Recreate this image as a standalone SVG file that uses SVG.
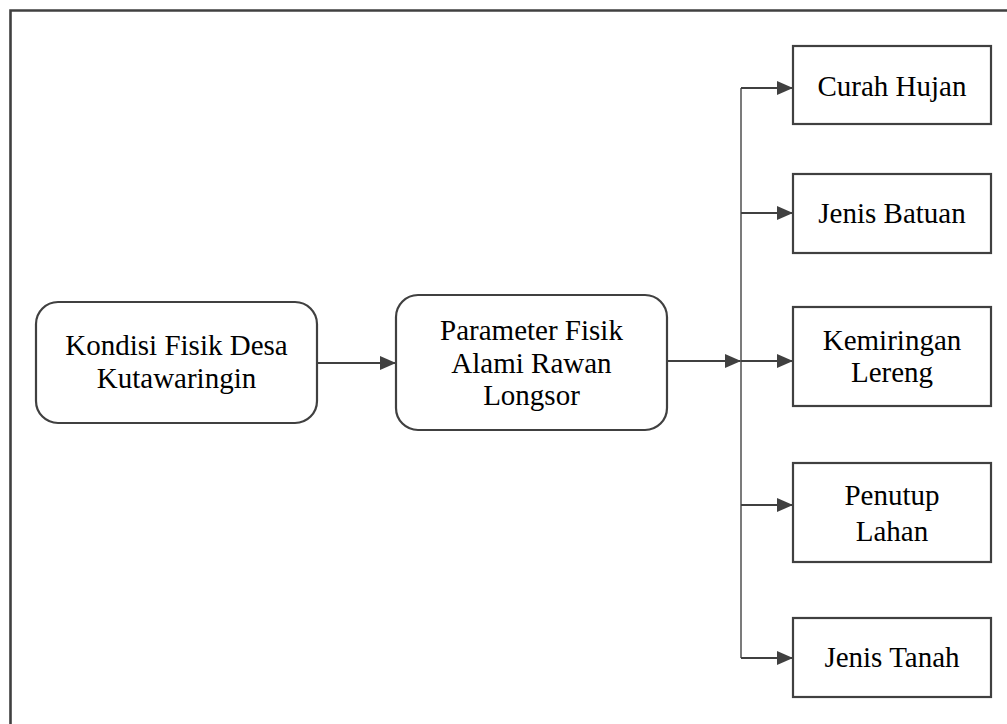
<svg xmlns="http://www.w3.org/2000/svg" width="1007" height="724" viewBox="0 0 1007 724">
  <defs>
    <style>
      .box { fill: #ffffff; stroke: #404040; stroke-width: 2.2; }
      .txt { font-family: "Liberation Serif", "Times New Roman", serif; font-size: 29px; fill: #000000; text-anchor: middle; }
      .conn { fill: none; stroke: #404040; stroke-width: 2.2; }
      .trunk { fill: none; stroke: #5a5a5a; stroke-width: 1.6; }
    </style>
    <marker id="arrow" viewBox="0 0 16 14" refX="16" refY="7" markerWidth="16" markerHeight="14" markerUnits="userSpaceOnUse" orient="auto">
      <path d="M0,0 L16,7 L0,14 Z" fill="#404040"/>
    </marker>
  </defs>
  <rect x="0" y="0" width="1007" height="724" fill="#ffffff"/>
  <path d="M10.5,724 V10.5 H1007" fill="none" stroke="#404040" stroke-width="2.6"/>

  <g id="connectors">
    <line class="conn" x1="318" y1="363" x2="396" y2="363" marker-end="url(#arrow)"/>
    <line class="conn" x1="667" y1="361" x2="741" y2="361" marker-end="url(#arrow)"/>
    <line class="trunk" x1="741" y1="88" x2="741" y2="658"/>
    <line class="conn" x1="741" y1="88" x2="793" y2="88" marker-end="url(#arrow)"/>
    <line class="conn" x1="741" y1="213" x2="793" y2="213" marker-end="url(#arrow)"/>
    <line class="conn" x1="741" y1="361" x2="793" y2="361" marker-end="url(#arrow)"/>
    <line class="conn" x1="741" y1="505" x2="793" y2="505" marker-end="url(#arrow)"/>
    <line class="conn" x1="741" y1="658" x2="793" y2="658" marker-end="url(#arrow)"/>
  </g>

  <g id="kondisi">
    <rect class="box" x="36" y="302" width="281" height="121" rx="22" ry="22"/>
    <text class="txt" x="176.5" y="355">Kondisi Fisik Desa</text>
    <text class="txt" x="176.5" y="388">Kutawaringin</text>
  </g>

  <g id="parameter">
    <rect class="box" x="396" y="295" width="271" height="135" rx="22" ry="22"/>
    <text class="txt" x="531.5" y="340">Parameter Fisik</text>
    <text class="txt" x="531.5" y="373">Alami Rawan</text>
    <text class="txt" x="531.5" y="405">Longsor</text>
  </g>

  <g id="curah-hujan">
    <rect class="box" x="793" y="46" width="198" height="78"/>
    <text class="txt" x="892" y="96">Curah Hujan</text>
  </g>

  <g id="jenis-batuan">
    <rect class="box" x="793" y="174" width="198" height="79"/>
    <text class="txt" x="892" y="223">Jenis Batuan</text>
  </g>

  <g id="kemiringan-lereng">
    <rect class="box" x="793" y="307" width="198" height="99"/>
    <text class="txt" x="892" y="350">Kemiringan</text>
    <text class="txt" x="892" y="382">Lereng</text>
  </g>

  <g id="penutup-lahan">
    <rect class="box" x="793" y="463" width="198" height="99"/>
    <text class="txt" x="892" y="505">Penutup</text>
    <text class="txt" x="892" y="541">Lahan</text>
  </g>

  <g id="jenis-tanah">
    <rect class="box" x="793" y="618" width="198" height="79"/>
    <text class="txt" x="892" y="667">Jenis Tanah</text>
  </g>
</svg>
